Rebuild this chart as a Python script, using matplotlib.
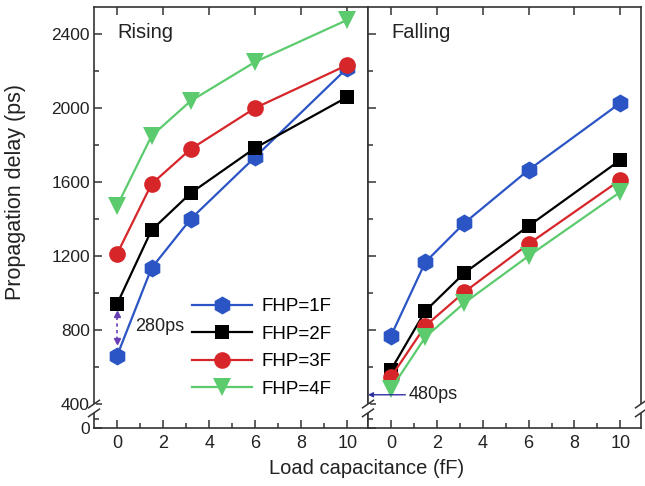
import numpy as np
import matplotlib
matplotlib.use("Agg")
import matplotlib.pyplot as plt
from matplotlib.ticker import FixedLocator, NullFormatter

plt.rcParams['font.family'] = ['Liberation Sans', 'DejaVu Sans']

# Load capacitance (fF)
load_cap = [0, 1.5, 3.2, 6, 10]

# Propagation delay (ps), rising transition
rise_1f = [660, 1135, 1400, 1735, 2216]
rise_2f = [940, 1340, 1540, 1784, 2059]
rise_3f = [1211, 1589, 1778, 2000, 2232]
rise_4f = [1470, 1849, 2038, 2249, 2476]

# Propagation delay (ps), falling transition
fall_1f = [768, 1167, 1378, 1665, 2027]
fall_2f = [584, 903, 1108, 1362, 1719]
fall_3f = [546, 822, 1005, 1265, 1611]
fall_4f = [480, 762, 946, 1200, 1546]

series_labels = ['FHP=1F', 'FHP=2F', 'FHP=3F', 'FHP=4F']
colors = ['#2b55c5', '#000000', '#d7262a', '#5ccb6e']
markers = ['h', 's', 'o', 'v']
msizes = [13, 10, 12, 13]

y_major = [0, 400, 800, 1200, 1600, 2000, 2400]
y_minor = [150, 600, 1000, 1400, 1800, 2200]
x_major = [0, 2, 4, 6, 8, 10]
x_minor = [1, 3, 5, 7, 9]

# Broken y axis: values below 400 are compressed
BREAK = 400.0
K = 0.324


def fwd(y):
    y = np.asarray(y, dtype=float)
    return np.where(y >= BREAK, y, BREAK - (BREAK - y) * K)


def inv(v):
    v = np.asarray(v, dtype=float)
    return np.where(v >= BREAK, v, BREAK - (BREAK - v) / K)


W, H = 645, 486
fig = plt.figure(figsize=(W / 100, H / 100), dpi=100)
ax_l = fig.add_axes([94 / W, 1 - 428 / H, 274 / W, 420.5 / H])
ax_r = fig.add_axes([368 / W, 1 - 428 / H, 273 / W, 420.5 / H])

spine_col = '#333333'
text_col = '#222222'
for ax, data, title in [(ax_l, [rise_1f, rise_2f, rise_3f, rise_4f], 'Rising'),
                        (ax_r, [fall_1f, fall_2f, fall_3f, fall_4f], 'Falling')]:
    ax.set_yscale('function', functions=(fwd, inv))
    for vals, lab, c, m, ms in zip(data, series_labels, colors, markers, msizes):
        ax.plot(load_cap, vals, color=c, marker=m, markersize=ms, lw=1.6,
                label=lab, markeredgewidth=0, zorder=3)
    ax.set_xlim(-1.0, 10.9)
    ax.set_ylim(0, 2543)
    ax.xaxis.set_major_locator(FixedLocator(x_major))
    ax.xaxis.set_minor_locator(FixedLocator(x_minor))
    ax.yaxis.set_major_locator(FixedLocator(y_major))
    ax.yaxis.set_minor_locator(FixedLocator(y_minor))
    ax.yaxis.set_minor_formatter(NullFormatter())
    ax.tick_params(which='both', direction='in', top=True, right=False,
                   colors=spine_col, labelcolor=text_col, width=1.1)
    ax.tick_params(axis='y', labelsize=12.5)
    ax.tick_params(axis='x', labelsize=13)
    ax.tick_params(which='major', length=6, pad=3)
    ax.tick_params(axis='x', which='major', pad=5)
    ax.tick_params(which='minor', length=3.5, top=False)
    for s in ax.spines.values():
        s.set_linewidth(1.2)
        s.set_color(spine_col)
    ax.text(0.085, 0.94, title, transform=ax.transAxes, fontsize=14.5,
            ha='left', va='center', color=text_col)

ax_r.set_yticklabels([])
ax_l.set_yticklabels([str(v) for v in y_major])

# Axis-break marks on the vertical spines
def break_marks(ax, xfrac):
    trans = ax.transAxes
    y0, y1 = 0.036, 0.057
    ax.plot([xfrac, xfrac], [y0, y1], transform=trans, color='white', lw=3,
            clip_on=False, zorder=5, solid_capstyle='butt')
    dx, dy = 0.02, 0.009
    for yc in (y0, y1):
        ax.plot([xfrac - dx, xfrac + dx], [yc - dy, yc + dy], transform=trans,
                color=spine_col, lw=1.1, clip_on=False, zorder=6)

break_marks(ax_l, 0.0)
break_marks(ax_r, 0.0)
break_marks(ax_r, 1.0)

# 280 ps gap between FHP=1F and FHP=2F at zero load (rising)
gap_col = '#6a3fb5'
lo, hi = rise_1f[0], rise_2f[0]
ax_l.plot([0, 0], [lo + 85, hi - 60], color=gap_col, lw=1.2, ls=(0, (2, 2)), zorder=2)
ax_l.plot([0], [hi - 55], marker='^', color=gap_col, markersize=4, zorder=2)
ax_l.plot([0], [lo + 80], marker='v', color=gap_col, markersize=4, zorder=2)
ax_l.text(0.8, (lo + hi) / 2 + 20, f'{hi - lo}ps', fontsize=13, ha='left',
          va='center', color=text_col)

# 480 ps delay of FHP=4F at zero load (falling)
ax_r.annotate(f'{fall_4f[0]}ps', xy=(-1.0, fall_4f[0] - 30), xytext=(0.75, fall_4f[0] - 30),
              fontsize=13, ha='left', va='center', color=text_col,
              arrowprops=dict(arrowstyle='-|>', color='#3030a0', lw=1.0,
                              shrinkA=0, shrinkB=0, mutation_scale=7))

ax_l.legend(loc='upper left', bbox_to_anchor=(0.33, 0.327), frameon=False,
            fontsize=13.5, handlelength=3.2, labelspacing=0.56, handletextpad=0.5,
            borderaxespad=0)

fig.text(367 / W, 1 - 468 / H, 'Load capacitance (fF)', fontsize=14.5,
         ha='center', va='center', color=text_col)
fig.text(16 / W, 1 - 192 / H, 'Propagation delay (ps)', fontsize=15.5,
         ha='center', va='center', rotation=90, color=text_col)

fig.savefig('out.png', dpi=100)
